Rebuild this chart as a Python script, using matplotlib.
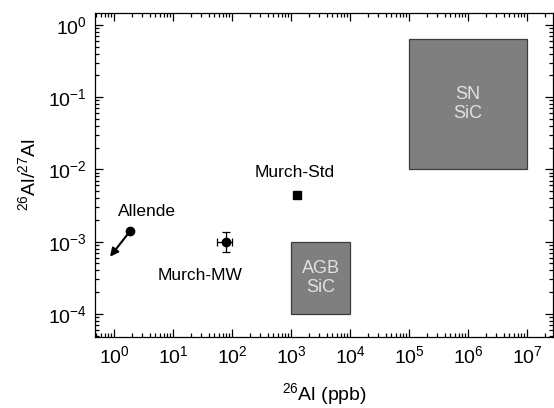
import matplotlib
matplotlib.use('Agg')
import matplotlib.pyplot as plt
import matplotlib.ticker as mticker
from matplotlib.patches import Rectangle

plt.rcParams.update({
    'font.family': ['Liberation Sans', 'DejaVu Sans'],
    'mathtext.fontset': 'custom',
    'mathtext.rm': 'Liberation Sans',
    'mathtext.it': 'Liberation Sans:italic',
    'mathtext.bf': 'Liberation Sans:bold',
})

# ---- data ----
labels = ['Allende', 'Murch-MW', 'Murch-Std']
al26_ppb = [1.9, 80, 1260]
ratio = [1.42e-3, 1.0e-3, 4.4e-3]

# Murch-MW error range
mw_x_range = [56, 100]
mw_y_range = [7.1e-4, 1.38e-3]

# Allende upper-limit arrow end
allende_arrow_to = [0.855, 6.2e-4]

# grain fields: (x0, x1), (y0, y1)
box_names = ['AGB\nSiC', 'SN\nSiC']
box_x = [(1e3, 1e4), (1e5, 1e7)]
box_y = [(1e-4, 1e-3), (1e-2, 0.63)]

x_major = [1e0, 1e1, 1e2, 1e3, 1e4, 1e5, 1e6, 1e7]
y_major = [1e-4, 1e-3, 1e-2, 1e-1, 1e0]
xlim = (0.476, 2.76e7)
ylim = (4.8e-5, 1.46)

fig = plt.figure(figsize=(5.54, 4.08), dpi=100)
ax = fig.add_axes([95 / 554, 71 / 408, 458 / 554, 324 / 408])
ax.set_xscale('log')
ax.set_yscale('log')

# grain boxes
for name, (x0, x1), (y0, y1) in zip(box_names, box_x, box_y):
    ax.add_patch(Rectangle((x0, y0), x1 - x0, y1 - y0, facecolor='#7f7f7f',
                           edgecolor='#3c3c3c', lw=0.9, zorder=2))
    xc = (x0 * x1) ** 0.5
    yc = (y0 * y1) ** 0.5
    ax.text(xc, yc, name, ha='center', va='center', fontsize=13,
            color='#e2e2e2', linespacing=1.15, zorder=3)

# Allende with upper-limit arrow
ax.annotate('', xy=allende_arrow_to, xytext=(al26_ppb[0], ratio[0]),
            arrowprops=dict(arrowstyle='-|>', color='black', lw=1.5,
                            mutation_scale=12, shrinkA=0, shrinkB=0), zorder=4)
ax.plot(al26_ppb[0], ratio[0], 'o', color='black', ms=6, zorder=5)

# Murch-MW with error bars
xe = [[al26_ppb[1] - mw_x_range[0]], [mw_x_range[1] - al26_ppb[1]]]
ye = [[ratio[1] - mw_y_range[0]], [mw_y_range[1] - ratio[1]]]
ax.errorbar(al26_ppb[1], ratio[1], xerr=xe, yerr=ye, fmt='o', color='black',
            ms=6, elinewidth=0.9, capsize=3, capthick=0.9, zorder=5)

# Murch-Std
ax.plot(al26_ppb[2], ratio[2], 's', color='black', ms=5.5, zorder=5)

offsets = [(12, 14), (-19, -24), (-1.5, 16.5)]
for lab, x, y, off in zip(labels, al26_ppb, ratio, offsets):
    ax.annotate(lab, xy=(x, y), xytext=off, textcoords='offset points',
                ha='center', va='center', fontsize=12.5)

ax.xaxis.set_major_locator(mticker.FixedLocator(x_major))
ax.yaxis.set_major_locator(mticker.FixedLocator(y_major))
ax.xaxis.set_major_formatter(mticker.LogFormatterSciNotation())
ax.yaxis.set_major_formatter(mticker.LogFormatterSciNotation())
ax.xaxis.set_minor_locator(mticker.LogLocator(base=10, subs=range(2, 10), numticks=20))
ax.yaxis.set_minor_locator(mticker.LogLocator(base=10, subs=range(2, 10), numticks=20))
ax.xaxis.set_minor_formatter(mticker.NullFormatter())
ax.yaxis.set_minor_formatter(mticker.NullFormatter())
ax.set_xlim(*xlim)
ax.set_ylim(*ylim)

ax.tick_params(which='both', direction='in', top=True, right=True,
               labelsize=14, width=0.9, pad=6)
ax.tick_params(which='major', length=6)
ax.tick_params(which='minor', length=3)
for s in ax.spines.values():
    s.set_linewidth(0.9)

ax.set_xlabel('$^{26}$Al (ppb)', fontsize=14, labelpad=10)
ax.set_ylabel('$^{26}$Al/$^{27}$Al', fontsize=14, labelpad=6)

fig.savefig('out.png', dpi=100)
